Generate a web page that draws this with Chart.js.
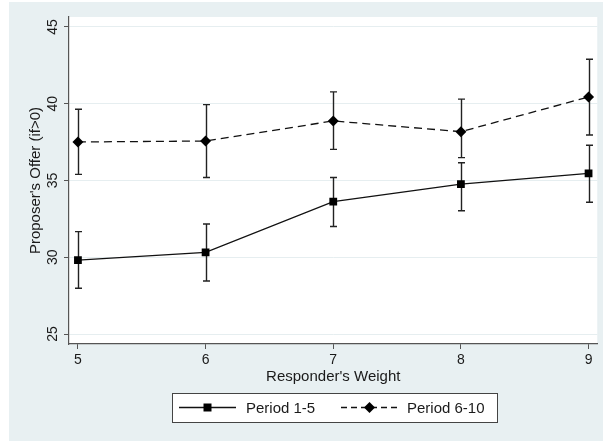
<!DOCTYPE html>
<html><head><meta charset="utf-8">
<script src="https://cdn.jsdelivr.net/npm/chart.js@4/dist/chart.umd.min.js"></script>
<style>html,body{margin:0;padding:0;background:#fff;}#wrap{width:603px;height:441px;}</style>
</head><body><div id="wrap"><canvas id="c" width="603" height="441"></canvas></div>
<script>
// ---- data ----
const weights = [5, 6, 7, 8, 9];
const xTickLabels = ['5', '6', '7', '8', '9'];
const yTickValues = [25, 30, 35, 40, 45];
const yTickLabels = ['25', '30', '35', '40', '45'];
const period1Mean = [29.82, 30.32, 33.62, 34.77, 35.47];
const period1Low  = [27.98, 28.45, 32.00, 33.03, 33.58];
const period1High = [31.67, 32.17, 35.20, 36.16, 37.30];
const period2Mean = [37.51, 37.57, 38.88, 38.18, 40.44];
const period2Low  = [35.40, 35.20, 37.03, 36.49, 37.96];
const period2High = [39.64, 39.94, 40.77, 40.30, 42.90];
const seriesNames = ['Period 1-5', 'Period 6-10'];
const xTitle = "Responder's Weight";
const yTitle = "Proposer's Offer (if>0)";

const FONT = "'Liberation Sans', Arial, Helvetica, sans-serif";
const TEXT = '#1a1a1a';
const AXIS = '#555555';
const GRID = '#E6EEF0';
const BG = '#E8F0F2';

const bgPlugin = {
  id: 'bg',
  beforeDraw(chart) {
    const ctx = chart.ctx, a = chart.chartArea;
    ctx.save();
    ctx.fillStyle = '#ffffff';
    ctx.fillRect(0, 0, chart.width, chart.height);
    ctx.fillStyle = BG;
    ctx.fillRect(9, 2, chart.width - 9, chart.height - 2);
    ctx.fillStyle = '#ffffff';
    ctx.fillRect(a.left, a.top, a.right - a.left, a.bottom - a.top);
    ctx.strokeStyle = GRID;
    ctx.lineWidth = 1;
    ctx.beginPath();
    ctx.moveTo(a.right + 0.5, a.top);
    ctx.lineTo(a.right + 0.5, a.bottom);
    ctx.stroke();
    ctx.restore();
  }
};

const errPlugin = {
  id: 'errbars',
  beforeDatasetsDraw(chart) {
    const ctx = chart.ctx, xs = chart.scales.x, ys = chart.scales.y;
    const sets = [[period1Low, period1High], [period2Low, period2High]];
    ctx.save();
    ctx.strokeStyle = '#222222';
    ctx.lineWidth = 1.4;
    sets.forEach(([lo, hi]) => {
      weights.forEach((w, i) => {
        const x = Math.round(xs.getPixelForValue(w)) + 0.5;
        const y1 = ys.getPixelForValue(lo[i]);
        const y2 = ys.getPixelForValue(hi[i]);
        ctx.beginPath();
        ctx.moveTo(x, y1); ctx.lineTo(x, y2);
        ctx.moveTo(x - 3.5, y1); ctx.lineTo(x + 3.5, y1);
        ctx.moveTo(x - 3.5, y2); ctx.lineTo(x + 3.5, y2);
        ctx.stroke();
      });
    });
    ctx.restore();
  }
};

function marker(ctx, kind, x, y) {
  ctx.fillStyle = '#000';
  ctx.beginPath();
  if (kind === 'rect') {
    ctx.rect(x - 4, y - 4, 8, 8);
  } else {
    ctx.moveTo(x, y - 5.5); ctx.lineTo(x + 5.5, y); ctx.lineTo(x, y + 5.5); ctx.lineTo(x - 5.5, y); ctx.closePath();
  }
  ctx.fill();
}

const textPlugin = {
  id: 'texts',
  afterDraw(chart) {
    const ctx = chart.ctx, xs = chart.scales.x, ys = chart.scales.y, a = chart.chartArea;
    ctx.save();
    ctx.fillStyle = TEXT;
    // x tick labels
    ctx.font = '14px ' + FONT;
    ctx.textAlign = 'center';
    ctx.textBaseline = 'alphabetic';
    weights.forEach((w, i) => {
      ctx.fillText(xTickLabels[i], xs.getPixelForValue(w), 364);
    });
    // y tick labels (rotated)
    yTickValues.forEach((v, i) => {
      ctx.save();
      ctx.translate(57, ys.getPixelForValue(v));
      ctx.rotate(-Math.PI / 2);
      ctx.fillText(yTickLabels[i], 0, 0);
      ctx.restore();
    });
    // axis titles
    ctx.font = '15px ' + FONT;
    ctx.fillText(xTitle, (a.left + a.right) / 2, 381);
    ctx.save();
    ctx.translate(40, (a.top + a.bottom) / 2);
    ctx.rotate(-Math.PI / 2);
    ctx.fillText(yTitle, 0, 0);
    ctx.restore();
    // legend
    ctx.fillStyle = '#ffffff';
    ctx.fillRect(172, 393, 325, 29);
    ctx.strokeStyle = '#444';
    ctx.lineWidth = 1;
    ctx.strokeRect(172.5, 393.5, 325, 29);
    const ly = 407.5;
    ctx.strokeStyle = '#111';
    ctx.lineWidth = 1.3;
    ctx.beginPath(); ctx.moveTo(179, ly); ctx.lineTo(236, ly); ctx.stroke();
    marker(ctx, 'rect', 207.5, ly);
    ctx.setLineDash([6, 4]);
    ctx.beginPath(); ctx.moveTo(341, ly); ctx.lineTo(398, ly); ctx.stroke();
    ctx.setLineDash([]);
    marker(ctx, 'diamond', 369.5, ly);
    ctx.fillStyle = TEXT;
    ctx.font = '15px ' + FONT;
    ctx.textAlign = 'left';
    ctx.fillText(seriesNames[0], 246, 413);
    ctx.fillText(seriesNames[1], 407, 413);
    ctx.restore();
  }
};

new Chart(document.getElementById('c'), {
  type: 'line',
  data: {
    datasets: [
      {
        label: seriesNames[0],
        data: weights.map((w, i) => ({ x: w, y: period1Mean[i] })),
        borderColor: '#111', borderWidth: 1.3, tension: 0, fill: false,
        pointStyle: 'rect', pointRadius: 5.5, pointBackgroundColor: '#000', pointBorderWidth: 0
      },
      {
        label: seriesNames[1],
        data: weights.map((w, i) => ({ x: w, y: period2Mean[i] })),
        borderColor: '#111', borderWidth: 1.3, borderDash: [8, 5], tension: 0, fill: false,
        pointStyle: 'rectRot', pointRadius: 5.5, pointBackgroundColor: '#000', pointBorderWidth: 0
      }
    ]
  },
  options: {
    responsive: false, animation: false, devicePixelRatio: 1,
    layout: { padding: { left: 0, right: 4, top: 17, bottom: 0 } },
    plugins: { legend: { display: false }, tooltip: { enabled: false } },
    scales: {
      x: {
        type: 'linear', min: 4.93, max: 9.07,
        afterBuildTicks: s => { s.ticks = weights.map(v => ({ value: v })); },
        afterFit: s => { s.height = 97; },
        ticks: { display: false },
        grid: { drawOnChartArea: false, tickLength: 5, tickColor: AXIS, tickWidth: 1 },
        border: { color: AXIS, width: 1.2 }
      },
      y: {
        type: 'linear', min: 24.35, max: 45.65,
        afterBuildTicks: s => { s.ticks = yTickValues.map(v => ({ value: v })); },
        afterFit: s => { s.width = 69; },
        ticks: { display: false },
        grid: { color: GRID, lineWidth: 1, tickLength: 5, tickColor: AXIS, tickWidth: 1 },
        border: { color: AXIS, width: 1.2 }
      }
    }
  },
  plugins: [bgPlugin, errPlugin, textPlugin]
});
</script></body></html>
